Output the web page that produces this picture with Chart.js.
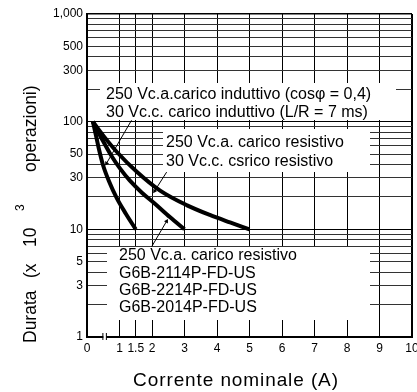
<!DOCTYPE html>
<html><head><meta charset="utf-8">
<script src="https://cdn.jsdelivr.net/npm/chart.js@4.4.1/dist/chart.umd.min.js"></script>
<style>html,body{margin:0;padding:0;background:#fff;overflow:hidden}#wrap{width:417px;height:392px;position:relative}</style>
</head><body><div id="wrap"><canvas id="c" width="417" height="392"></canvas></div>
<script>
// ---- data ----
const xTicks = [0, 1, 1.5, 2, 3, 4, 5, 6, 7, 8, 9, 10];
const yTicks = [1,2,3,4,5,6,7,8,9,10,20,30,40,50,60,70,80,90,100,200,300,400,500,600,700,800,900,1000];
const yLabels = [1, 3, 5, 10, 30, 50, 100, 300, 500, 1000];

const curveA_x = [0.18, 0.28, 0.37, 0.49, 0.68, 0.92, 1.2, 1.5];
const curveA_y = [100, 73.6, 55.1, 39.8, 27.8, 19.4, 13.9, 10];
const curveB_x = [0.18, 0.46, 0.74, 1.02, 1.32, 1.69, 2.09, 2.55, 3.0];
const curveB_y = [100, 69, 48.8, 36.6, 28.3, 21.9, 17.3, 13.0, 10];
const curveC_x = [0.18, 0.52, 0.92, 1.54, 2.25, 3.08, 3.78, 4.4, 5.0];
const curveC_y = [100, 73.0, 52.3, 34.1, 22.9, 16.7, 13.6, 11.6, 10];

// leader lines (start at note, end at curve)
const lead1_x = [1.37, 0.6];  const lead1_y = [103, 41];
const lead2_x = [2.45, 2.08]; const lead2_y = [34, 22.7];
const lead3_x = [1.99, 2.45]; const lead3_y = [6.9, 11.9];

const noteInductive = ['250 Vc.a.carico induttivo (cos\u03C6 = 0,4)', '30 Vc.c. carico induttivo (L/R = 7 ms)'];
const noteResistive = ['250 Vc.a. carico resistivo', '30 Vc.c. csrico resistivo'];
const noteModels = ['250 Vc.a. carico resistivo', 'G6B-2114P-FD-US', 'G6B-2214P-FD-US', 'G6B-2014P-FD-US'];
const xTitle = 'Corrente nominale (A)';
const yTitleParts = ['Durata', '(x', '10', '3', 'operazioni)'];

// ---- helpers ----
const pts = (xs, ys) => xs.map((x, i) => ({x: x, y: ys[i]}));
const FONT = '"Liberation Sans", Arial, Helvetica, sans-serif';
Chart.defaults.font.family = FONT;
Chart.defaults.color = '#000';

const curve = (xs, ys) => ({
  data: pts(xs, ys), borderColor: '#000', borderWidth: 4, pointRadius: 0,
  fill: false, cubicInterpolationMode: 'monotone', borderCapStyle: 'butt', borderJoinStyle: 'round'
});
const leader = (xs, ys, rot) => ({
  data: pts(xs, ys), borderColor: '#000', borderWidth: 1, tension: 0, fill: false,
  pointRadius: [0, 2.6], pointStyle: 'triangle', pointRotation: [0, rot],
  pointBackgroundColor: '#000', pointBorderWidth: 0
});

const boxes = [
  {x: 100, y: 83, w: 296, h: 37, tx: 106, ty: 95, lh: 18, lines: noteInductive},
  {x: 163, y: 129, w: 207, h: 43, tx: 166, ty: 143, lh: 18.5, lines: noteResistive},
  {x: 107, y: 247, w: 263, h: 73, tx: 119, ty: 256, lh: 17.3, lines: noteModels}
];

const overlay = {
  id: 'overlay',
  beforeDatasetsDraw(chart) {
    const ctx = chart.ctx;
    ctx.save();
    ctx.fillStyle = '#fff';
    boxes.forEach(b => ctx.fillRect(b.x, b.y, b.w, b.h));
    ctx.fillStyle = '#000';
    ctx.font = '16px ' + FONT;
    ctx.textBaseline = 'middle';
    ctx.textAlign = 'left';
    boxes.forEach(b => b.lines.forEach((t, i) => ctx.fillText(t, b.tx, b.ty + i * b.lh)));
    ctx.restore();
  },
  afterDraw(chart) {
    const ctx = chart.ctx;
    const xs = chart.scales.x;
    const bottom = chart.chartArea.bottom;
    ctx.save();
    // axis break symbol
    const bx = xs.getPixelForValue(0.55);
    ctx.fillStyle = '#fff';
    ctx.fillRect(bx - 1.5, bottom - 2, 3, 4);
    ctx.strokeStyle = '#000';
    ctx.lineWidth = 1;
    ctx.beginPath();
    ctx.moveTo(bx - 2, bottom - 4); ctx.lineTo(bx - 2, bottom + 3);
    ctx.moveTo(bx + 1.5, bottom - 4); ctx.lineTo(bx + 1.5, bottom + 3);
    ctx.stroke();
    // x title
    ctx.fillStyle = '#000';
    ctx.font = '19px ' + FONT;
    try { ctx.letterSpacing = '0.9px'; } catch (e) {}
    ctx.textAlign = 'center';
    ctx.textBaseline = 'alphabetic';
    ctx.fillText(xTitle, 236, 386);
    try { ctx.letterSpacing = '0px'; } catch (e) {}
    // y title (rotated pieces)
    const rot = (t, x, y, f) => {
      ctx.save(); ctx.translate(x, y); ctx.rotate(-Math.PI / 2);
      ctx.font = f; ctx.textAlign = 'left'; ctx.textBaseline = 'alphabetic';
      ctx.fillText(t, 0, 0); ctx.restore();
    };
    const f1 = '17.5px ' + FONT;
    rot(yTitleParts[0], 36, 343, f1);
    rot(yTitleParts[1], 36, 278, f1);
    rot(yTitleParts[2], 36, 247, f1);
    rot(yTitleParts[3], 24, 211, '12px ' + FONT);
    rot(yTitleParts[4], 36, 172, f1);
    ctx.restore();
  }
};

new Chart(document.getElementById('c'), {
  type: 'line',
  data: {
    datasets: [
      curve(curveA_x, curveA_y),
      curve(curveB_x, curveB_y),
      curve(curveC_x, curveC_y),
      leader(lead1_x, lead1_y, 211),
      leader(lead2_x, lead2_y, 212),
      leader(lead3_x, lead3_y, 31)
    ]
  },
  options: {
    responsive: false, animation: false, devicePixelRatio: 1, events: [],
    layout: {padding: {top: 14, right: 5, left: 0, bottom: 0}},
    plugins: {legend: {display: false}, tooltip: {enabled: false}},
    scales: {
      x: {
        type: 'linear', min: 0, max: 10,
        afterBuildTicks: s => { s.ticks = xTicks.map(v => ({value: v})); },
        afterFit: s => { s.height = 55; s.paddingLeft = 0; s.paddingRight = 0; },
        ticks: {autoSkip: false, maxRotation: 0, minRotation: 0, padding: 4,
                font: {size: 12}, color: '#000', callback: v => String(v)},
        grid: {color: '#000', drawTicks: false,
               lineWidth: c => (c.tick && c.tick.value === 10) ? 2 : 1},
        border: {display: true, color: '#000', width: 2}
      },
      y: {
        type: 'logarithmic', min: 1, max: 1000,
        afterBuildTicks: s => { s.ticks = yTicks.map(v => ({value: v})); },
        afterFit: s => { s.width = 87; s.paddingTop = 0; s.paddingBottom = 0; },
        ticks: {autoSkip: false, padding: 4, font: {size: 12}, color: '#000',
                callback: v => yLabels.includes(v) ? (v === 1000 ? '1,000' : String(v)) : ''},
        grid: {color: c => (c.tick && [1, 10, 100, 1000].includes(c.tick.value)) ? '#000' : '#333',
               drawTicks: false,
               lineWidth: c => (c.tick && c.tick.value === 1000) ? 1.5 : 1},
        border: {display: true, color: '#000', width: 2}
      }
    }
  },
  plugins: [overlay]
});
</script></body></html>
